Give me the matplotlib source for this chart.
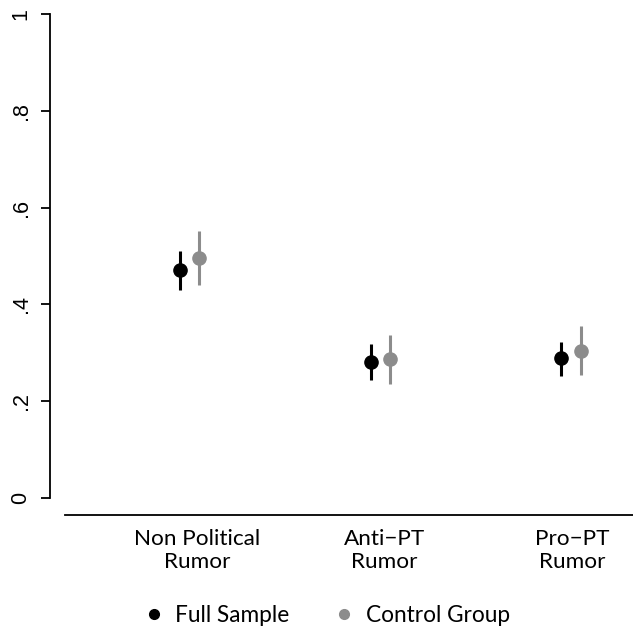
import matplotlib

matplotlib.use("Agg")
import matplotlib.pyplot as plt
from matplotlib.lines import Line2D

# Data
categories = ["Non Political\nRumor", "Anti\u2212PT\nRumor", "Pro\u2212PT\nRumor"]
full_x = [1.0, 2.0, 3.0]
full_mean = [0.471, 0.282, 0.289]
full_lo = [0.430, 0.244, 0.252]
full_hi = [0.511, 0.318, 0.322]

ctrl_x = [1.10, 2.10, 3.10]
ctrl_mean = [0.496, 0.287, 0.304]
ctrl_lo = [0.440, 0.235, 0.254]
ctrl_hi = [0.552, 0.337, 0.356]

label_x = [1.09, 2.07, 3.056]
yticks = [0, 0.2, 0.4, 0.6, 0.8, 1.0]
ytick_labels = ["0", ".2", ".4", ".6", ".8", "1"]

BLACK = "#000000"
GRAY = "#8c8c8c"
LABEL_FONT = ["Lato", "DejaVu Sans"]
TICK_FONT = ["Liberation Sans", "DejaVu Sans"]

W, H = 633, 630
fig = plt.figure(figsize=(W / 100, H / 100), dpi=100)
ax = fig.add_axes([65 / W, 1 - 515 / H, (W - 65) / W, (515 - 14) / H])


def draw(x, mean, lo, hi, color):
    err = [[m - l for m, l in zip(mean, lo)], [h - m for m, h in zip(mean, hi)]]
    ax.errorbar(x, mean, yerr=err, fmt="o", color=color, ms=9.5,
                elinewidth=2.2, capsize=0, mec=color, mfc=color)


draw(full_x, full_mean, full_lo, full_hi, BLACK)
draw(ctrl_x, ctrl_mean, ctrl_lo, ctrl_hi, GRAY)

ax.set_xlim(0.397, 3.375)
ax.set_ylim(-0.035, 1.0)

ax.spines["top"].set_visible(False)
ax.spines["right"].set_visible(False)
ax.spines["left"].set_position(("outward", 10.8))
ax.spines["left"].set_bounds(0, 1)
ax.spines["left"].set_linewidth(1.3)
ax.spines["bottom"].set_linewidth(1.3)

ax.set_yticks(yticks)
ax.set_yticklabels(ytick_labels, rotation=90, va="center",
                   family=TICK_FONT, fontsize=15.5)
ax.tick_params(axis="y", length=6.8, width=1.3, pad=6.5)

ax.set_xticks(label_x)
ax.set_xticklabels(categories, family=LABEL_FONT, fontsize=16.2,
                   linespacing=1.2)
ax.tick_params(axis="x", length=0, pad=10)

handles = [
    Line2D([], [], ls="none", marker="o", color=BLACK, ms=7),
    Line2D([], [], ls="none", marker="o", color=GRAY, ms=7),
]
fig.legend(handles, ["Full Sample", "Control Group"], loc="center",
           bbox_to_anchor=(0.517, 1 - 615 / H), ncol=2, frameon=False,
           prop={"family": LABEL_FONT, "size": 16.3},
           handlelength=0.8, handletextpad=0.55, columnspacing=2.0)

fig.savefig("out.png", dpi=100)
